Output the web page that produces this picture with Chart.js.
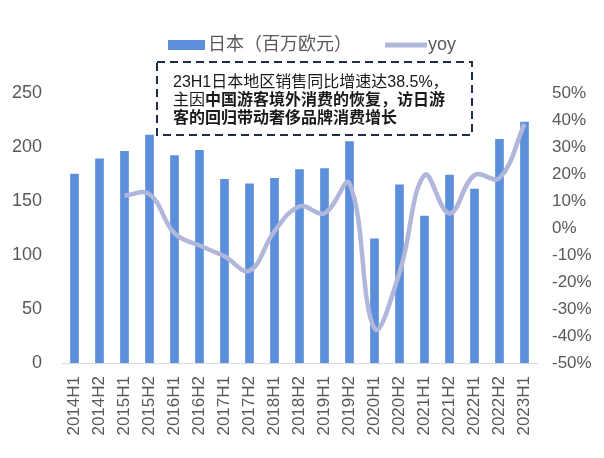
<!DOCTYPE html>
<html>
<head>
<meta charset="utf-8">
<script src="https://cdn.jsdelivr.net/npm/chart.js@4.4.1/dist/chart.umd.min.js"></script>
<style>
html,body{margin:0;padding:0;background:#fff;}
#wrap{width:604px;height:458px;position:relative;}
</style>
</head>
<body>
<div id="wrap"><canvas id="c" width="604" height="458"></canvas></div>
<script>
const categories = ["2014H1","2014H2","2015H1","2015H2","2016H1","2016H2","2017H1","2017H2","2018H1","2018H2","2019H1","2019H2","2020H1","2020H2","2021H1","2021H2","2022H1","2022H2","2023H1"];
const salesJapan = [175,189,196,211,192,197,170,166,171,179,180,205,115,165,136,174,161,207,223];
const yoyPct = [null,null,12,12.5,-2,-6.5,-10.5,-15.8,-1.2,8,5.5,16.5,-37.2,-16.5,19.6,5.4,19.6,18.5,38.5];
const leftTicks = [0,50,100,150,200,250];
const rightTicks = [-50,-40,-30,-20,-10,0,10,20,30,40,50];

const seriesNames = ["日本（百万欧元）","yoy"];
const noteLine1 = "23H1日本地区销售同比增速达38.5%，";
const noteLine2a = "主因";
const noteLine2b = "中国游客境外消费的恢复，访日游";
const noteLine3 = "客的回归带动奢侈品牌消费增长";

const BAR_COLOR = "#5B8FDB";
const LINE_COLOR = "#B1B6DB";
const TICK_COLOR = "#595959";
const FONT = "'Liberation Sans', Arial, 'Noto Sans CJK SC', sans-serif";

const overlay = {
  id: 'overlay',
  afterDraw(chart) {
    const ctx = chart.ctx;
    ctx.save();
    // legend
    ctx.fillStyle = BAR_COLOR;
    ctx.fillRect(168, 40, 37, 10);
    ctx.fillStyle = TICK_COLOR;
    ctx.font = "18px " + FONT;
    ctx.textBaseline = "middle";
    ctx.textAlign = "left";
    ctx.fillText(seriesNames[0], 208, 45);
    ctx.strokeStyle = LINE_COLOR;
    ctx.lineWidth = 5;
    ctx.lineCap = "butt";
    ctx.beginPath();
    ctx.moveTo(385, 45);
    ctx.lineTo(427, 45);
    ctx.stroke();
    ctx.fillStyle = TICK_COLOR;
    ctx.fillText(seriesNames[1], 428, 45);

    // annotation box
    ctx.fillStyle = "#ffffff";
    ctx.fillRect(157, 62, 315, 73);
    ctx.strokeStyle = "#1F2D4A";
    ctx.lineWidth = 2;
    ctx.setLineDash([8, 5]);
    ctx.strokeRect(157, 62, 315, 73);
    ctx.setLineDash([]);

    ctx.fillStyle = "#1a1a1a";
    ctx.textBaseline = "alphabetic";
    ctx.font = "16px " + FONT;
    ctx.fillText(noteLine1, 173, 87);
    ctx.fillText(noteLine2a, 173, 105);
    const w = ctx.measureText(noteLine2a).width;
    ctx.font = "bold 16px " + FONT;
    ctx.fillText(noteLine2b, 173 + w, 105);
    ctx.fillText(noteLine3, 173, 123);
    ctx.restore();
  }
};

new Chart(document.getElementById('c'), {
  type: 'bar',
  data: {
    labels: categories,
    datasets: [
      {
        type: 'line',
        label: seriesNames[1],
        data: yoyPct,
        yAxisID: 'y1',
        borderColor: LINE_COLOR,
        borderWidth: 4.5,
        pointRadius: 0,
        tension: 0.4,
        fill: false,
        order: 0
      },
      {
        type: 'bar',
        label: seriesNames[0],
        data: salesJapan,
        yAxisID: 'y',
        backgroundColor: BAR_COLOR,
        barThickness: 8,
        order: 1
      }
    ]
  },
  options: {
    responsive: false,
    animation: false,
    layout: { padding: { top: 93, left: 0, right: 0, bottom: 0 } },
    plugins: { legend: { display: false }, tooltip: { enabled: false } },
    scales: {
      x: {
        grid: { display: false, drawTicks: false },
        border: { display: true, color: '#D9D9D9', width: 1 },
        ticks: {
          color: TICK_COLOR, font: { size: 17, family: FONT },
          minRotation: 90, maxRotation: 90, padding: 13, autoSkip: false
        },
        afterFit(s) { s.height = 95; }
      },
      y: {
        position: 'left',
        min: 0, max: 250,
        grid: { display: false, drawTicks: false },
        border: { display: false },
        ticks: {
          color: TICK_COLOR, font: { size: 18, family: FONT }, padding: 20,
          stepSize: 50,
          callback: (v) => leftTicks.includes(v) ? String(v) : ''
        },
        afterFit(s) { s.width = 62; }
      },
      y1: {
        position: 'right',
        min: -50, max: 50,
        grid: { display: false, drawTicks: false },
        border: { display: false },
        ticks: {
          color: TICK_COLOR, font: { size: 17, family: FONT }, padding: 15,
          stepSize: 10,
          callback: (v) => rightTicks.includes(Math.round(v)) ? Math.round(v) + '%' : ''
        },
        afterFit(s) { s.width = 67; }
      }
    }
  },
  plugins: [overlay]
});
</script>
</body>
</html>
